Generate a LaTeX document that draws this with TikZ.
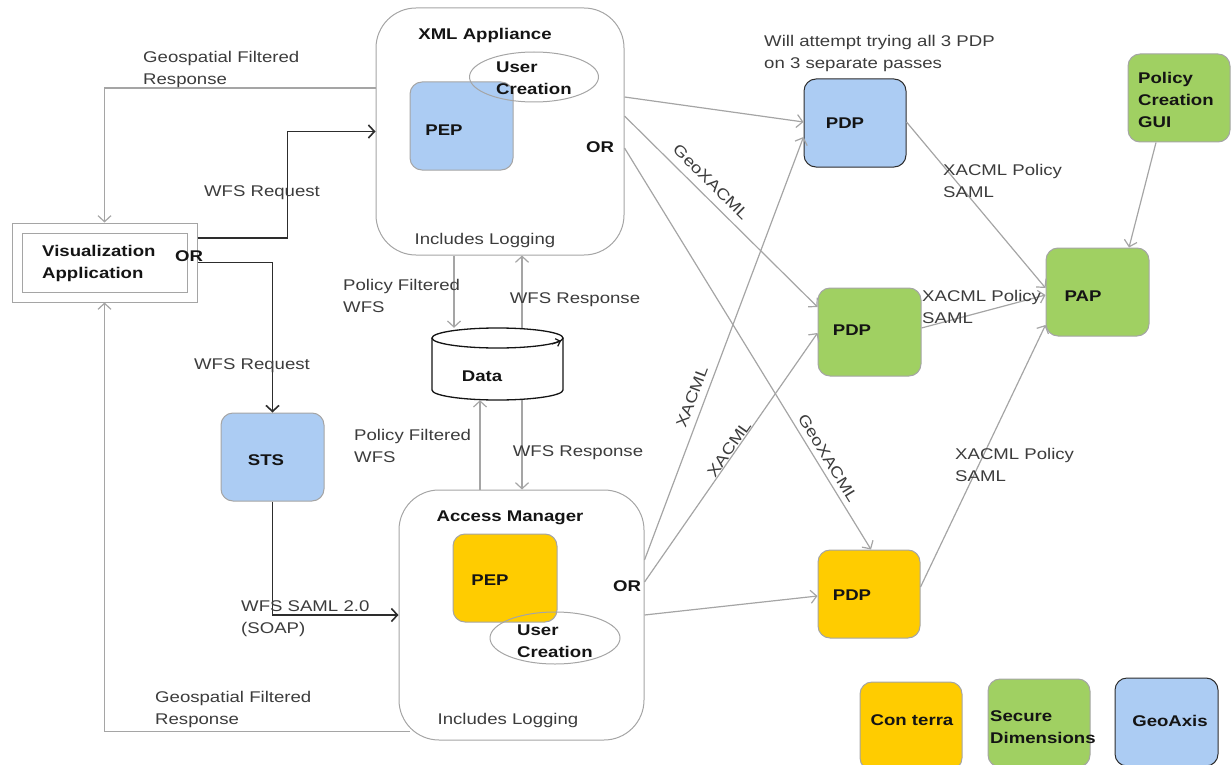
\documentclass[tikz,border=0pt]{standalone}
\usepackage{fontspec}
\setmainfont{Liberation Sans}[FakeStretch=1.2]
\usetikzlibrary{arrows.meta,shapes.geometric}
\definecolor{lgray}{RGB}{165,165,165}
\definecolor{dgray}{RGB}{45,45,45}
\definecolor{bluef}{RGB}{172,204,243}
\definecolor{greenf}{RGB}{160,208,98}
\definecolor{yellowf}{RGB}{255,204,0}
\definecolor{txt}{RGB}{60,60,60}
\definecolor{btxt}{RGB}{20,20,20}
\begin{document}
\begin{tikzpicture}[x=1pt,y=-1pt,
  lbl/.style={font=\fontsize{15.5}{22}\selectfont, text=txt, align=left, inner sep=0pt},
  blbl/.style={font=\fontsize{15.5}{22}\selectfont\bfseries, text=btxt, align=left, inner sep=0pt},
  sq/.style={rectangle, rounded corners=12pt, draw=lgray, line width=1pt, minimum width=103pt, minimum height=88pt, inner sep=0pt},
  bigbox/.style={rectangle, rounded corners=40pt, draw=lgray, line width=1pt, inner sep=0pt},
  ucell/.style={ellipse, draw=lgray, line width=1pt, inner sep=0pt},
  garrow/.style={draw=lgray, line width=1.2pt, -{Straight Barb[length=6pt,width=13pt]}},
  darrow/.style={draw=dgray, line width=1.6pt, -{Straight Barb[length=6pt,width=13pt]}},
  gline/.style={draw=lgray, line width=1.2pt}
]
\useasboundingbox (0,0) rectangle (1231,765);

% Visualization application
\node[rectangle, draw=lgray, line width=1pt, minimum width=185pt, minimum height=79pt, inner sep=0pt] (vis) at (104.5,262.5) {};
\node[rectangle, draw=lgray, line width=1pt, minimum width=165pt, minimum height=59pt, inner sep=0pt] (visin) at (104.5,262.5) {};
\node[blbl, anchor=west] (vistxt) at (42,263) {Visualization\\Application};
\node[blbl] (or0) at (189,256) {OR};

% XML appliance
\node[bigbox, minimum width=248pt, minimum height=247pt] (xml) at (500,131.5) {};
\node[blbl] (xmlt) at (485,35) {XML Appliance};
\node[sq, fill=bluef] (pep1) at (461.5,126) {};
\node[blbl] (pep1t) at (444,130) {PEP};
\node[ucell, minimum width=129pt, minimum height=50pt] (uc1) at (534,77) {};
\node[blbl, anchor=west] (uc1t) at (496,78) {User\\Creation};
\node[blbl] (or1) at (600,147) {OR};
\node[lbl] (log1) at (485,240) {Includes Logging};

% Data
\node[rectangle, minimum width=131pt, minimum height=72pt, inner sep=0pt] (data) at (497.5,364) {};
\draw[draw=btxt, line width=1.3pt] (432,338) -- (432,390) arc[start angle=180, end angle=360, x radius=65.5pt, y radius=10pt] -- (563,338);
\draw[draw=btxt, line width=1.3pt] (497.5,338) ellipse[x radius=65.5pt, y radius=10pt];
\draw[draw=btxt, line width=1.2pt, -{Straight Barb[length=4pt,width=8pt]}] (552,344) -- (561,341);
\node[blbl] (datat) at (482,376) {Data};

% STS
\node[sq, fill=bluef] (sts) at (272.5,457) {};
\node[blbl] (stst) at (266,460) {STS};

% Access manager
\node[bigbox, minimum width=245pt, minimum height=250pt] (am) at (521.5,615) {};
\node[blbl] (amt) at (510,518) {Access Manager};
\node[sq, fill=yellowf, minimum width=104pt] (pep2) at (505,578) {};
\node[blbl] (pep2t) at (490,580) {PEP};
\node[ucell, minimum width=130pt, minimum height=52pt] (uc2) at (555,638) {};
\node[blbl, anchor=west] (uc2t) at (517,641.5) {User\\Creation};
\node[blbl] (or2) at (627,586) {OR};
\node[lbl] (log2) at (508,720) {Includes Logging};

% PDPs, PAP, GUI
\node[sq, fill=bluef, draw=dgray, minimum width=102pt] (pdpb) at (855,123) {};
\node[blbl] (pdpbt) at (845,123) {PDP};
\node[sq, fill=greenf] (pdpg) at (869.5,332) {};
\node[blbl] (pdpgt) at (852,330) {PDP};
\node[sq, fill=yellowf, minimum width=102pt] (pdpy) at (869,594) {};
\node[blbl] (pdpyt) at (852,595) {PDP};
\node[sq, fill=greenf] (pap) at (1097.5,292) {};
\node[blbl] (papt) at (1083,296) {PAP};
\node[sq, fill=greenf, minimum width=102pt] (gui) at (1179,98) {};
\node[blbl, anchor=west] (guit) at (1138,100) {Policy\\Creation\\GUI};

% Legend
\node[sq, fill=yellowf, minimum width=102pt] (leg1) at (911,726) {};
\node[blbl] (leg1t) at (912,720) {Con terra};
\node[sq, fill=greenf, minimum width=102pt] (leg2) at (1039,723) {};
\node[blbl, anchor=west] (leg2t) at (990,727) {Secure\\Dimensions};
\node[sq, fill=bluef, draw=dgray] (leg3) at (1166.5,722) {};
\node[blbl] (leg3t) at (1170,721) {GeoAxis};

% Left connectors
\draw[garrow] ([yshift=43.5pt]xml.west) -| (vis.north);
\draw[darrow] ([yshift=24.5pt]vis.east) -- ++(90,0) |- (xml.west);
\draw[darrow] (vis.east) -| (sts.north);
\draw[darrow] (sts.south) |- (am.west);
\draw[garrow] ([shift={(11pt,9pt)}]am.south west) -| (vis.south);

\node[lbl, anchor=west] (l1) at (143,69) {Geospatial Filtered\\Response};
\node[lbl] (l2) at (262,193) {WFS Request};
\node[lbl] (l3) at (252,366) {WFS Request};
\node[lbl, anchor=west] (l4) at (241,618.5) {WFS SAML 2.0\\(SOAP)};
\node[lbl, anchor=west] (l5) at (155,709) {Geospatial Filtered\\Response};

% Data connectors
\draw[garrow] ([xshift=-46pt]xml.south) -- ([xshift=-43.5pt]data.north);
\draw[garrow] ([xshift=24.5pt]data.north) -- ([xshift=22pt]xml.south);
\draw[garrow] ([xshift=-41.5pt]am.north) -- ([xshift=-17.5pt]data.south);
\draw[garrow] ([xshift=24.5pt]data.south) -- ([xshift=0.5pt]am.north);
\node[lbl, anchor=west] (l6) at (343,296) {Policy Filtered\\WFS};
\node[lbl] (l7) at (575,300) {WFS Response};
\node[lbl, anchor=west] (l8) at (354,446) {Policy Filtered\\WFS};
\node[lbl] (l9) at (578,453) {WFS Response};

% Right connectors
\draw[garrow] ([yshift=34.5pt]xml.east) -- ([yshift=1pt]pdpb.west);
\draw[garrow] ([yshift=15.5pt]xml.east) -- ([yshift=25pt]pdpg.west);
\draw[garrow] ([yshift=-16.5pt]xml.east) -- ([xshift=2pt]pdpy.north);
\draw[garrow] ([yshift=55pt]am.east) -- ([yshift=-14pt]pdpb.west);
\draw[garrow] ([yshift=33pt]am.east) -- ([yshift=-1pt]pdpg.west);
\draw[garrow] (am.east) -- ([yshift=-2pt]pdpy.west);
\draw[garrow] ([yshift=1pt]pdpb.east) -- ([yshift=4pt]pap.west);
\draw[garrow] ([yshift=4pt]pdpg.east) -- ([yshift=-3pt]pap.west);
\draw[garrow] ([yshift=7pt]pdpy.east) -- ([yshift=-33pt]pap.west);
\draw[garrow] ([xshift=-23pt]gui.south) -- ([xshift=31.5pt]pap.north);

\node[lbl, anchor=west] (l10) at (764,53.5) {Will attempt trying all 3 PDP\\on 3 separate passes};
\node[lbl, rotate=-44.7] (l11) at (711,182) {GeoXACML};
\node[lbl, rotate=-58.4] (l12) at (828,458) {GeoXACML};
\node[lbl, rotate=69.3] (l13) at (692,397) {XACML};
\node[lbl, rotate=55] (l14) at (729,449) {XACML};
\node[lbl, anchor=west] (l15) at (943,181) {XACML Policy\\SAML};
\node[lbl, anchor=west] (l16) at (922,307) {XACML Policy\\SAML};
\node[lbl, anchor=west] (l17) at (955,464.5) {XACML Policy\\SAML};
\end{tikzpicture}
\end{document}
